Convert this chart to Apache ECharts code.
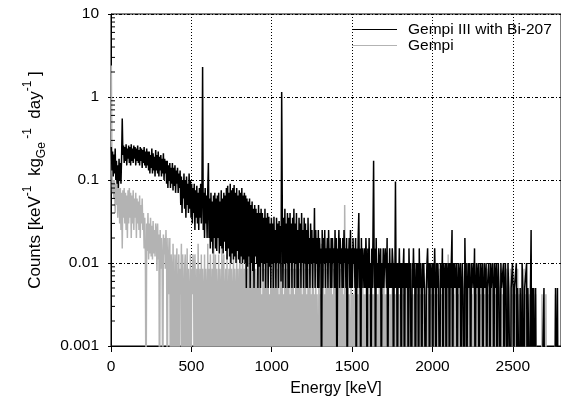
<!DOCTYPE html>
<html><head><meta charset="utf-8">
<script src="https://cdn.jsdelivr.net/npm/echarts@6/dist/echarts.min.js"></script>
<style>html,body{margin:0;padding:0;background:#fff}#c{width:561px;height:403px}</style>
</head><body><div id="c"></div>
<script>
// bin width of the spectra (keV); values are counts per keV per kg(Ge) per day
const binWidthKeV = 4;
const seriesNames = ['Gempi III with Bi-207', 'Gempi'];
const xTickLabels = ['0', '500', '1000', '1500', '2000', '2500'];
const yTickLabels = ['0.001', '0.01', '0.1', '1', '10'];
const yMinorTicks = [0.002,0.003,0.004,0.005,0.006,0.007,0.008,0.009,
  0.02,0.03,0.04,0.05,0.06,0.07,0.08,0.09,
  0.2,0.3,0.4,0.5,0.6,0.7,0.8,0.9,
  2,3,4,5,6,7,8,9];

// Gempi III with Bi-207 (black); 1e-4 = empty bin (below the axis)
const bi207 = [
  0.25,0.13,0.22,0.11,0.2,0.12,0.24,0.1,
  0.17,0.09,0.15,0.08,0.18,0.1,0.16,0.09,0.19,
  0.55,
  0.2,0.26,0.16,0.25,0.17,0.27,0.15,0.24,0.18,0.26,
  0.16,0.25,0.15,0.27,0.17,0.24,0.16,0.26,0.18,0.25,
  0.15,0.24,0.17,0.26,0.16,0.23,0.15,0.25,0.17,0.24,
  0.14,0.23,0.16,0.25,0.15,0.22,0.14,0.24,0.15,0.22,
  0.13,0.22,0.12,0.2,0.14,0.24,0.12,0.21,0.13,0.19,
  0.11,0.23,0.13,0.2,0.12,0.22,0.11,0.19,0.13,0.2,
  0.11,0.18,0.12,0.21,0.1,0.18,0.12,0.17,
  0.09,0.17,0.08,0.15,0.1,0.16,0.08,0.14,0.09,0.16,
  0.075,0.14,0.085,0.15,0.07,0.13,0.09,0.14,0.07,0.12,0.08,0.13,
  0.05,0.11,0.04,0.1,0.06,0.12,0.045,0.1,0.035,0.11,
  0.05,0.09,0.04,0.12,0.045,0.1,0.035,0.09,
  0.03,0.08,0.04,0.09,0.025,0.075,0.035,0.085,0.03,0.07,0.025,0.08,0.035,0.09,0.03,0.07,
  2.3,
  0.025,0.07,0.02,0.08,0.03,0.065,0.02,0.075,
  0.16,
  0.02,0.06,0.015,0.07,0.018,0.055,0.013,0.065,0.02,0.07,
  0.015,0.06,0.014,0.065,0.02,0.07,0.013,0.055,0.016,0.075,
  0.015,0.06,0.013,0.07,0.018,0.065,
  0.014,0.08,0.011,0.085,0.015,0.07,0.012,0.09,0.01,0.075,
  0.013,0.08,0.011,0.087,0.012,0.07,0.01,0.08,0.014,0.065,
  0.011,0.075,0.01,0.07,0.012,0.08,0.01,0.065,0.011,0.07,
  0.01,0.065,0.005,0.06,0.009,0.055,0.012,0.06,0.005,0.05,
  0.01,0.055,0.008,0.045,0.005,0.05,0.012,0.045,0.01,0.04,
  0.005,0.05,0.009,0.04,0.005,0.045,0.01,0.04,0.006,0.035,
  0.01,0.045,0.005,0.035,0.01,0.04,0.005,0.036,0.009,0.03,
  0.005,0.035,0.01,0.03,0.005,0.036,0.01,0.025,0.005,0.035,
  0.01,0.03,0.005,0.032,0.01,0.028,0.006,
  1.15,
  0.04,0.005,0.035,0.01,0.045,0.005,0.03,0.01,0.04,0.005,
  0.035,0.005,0.04,0.01,0.03,0.005,0.035,0.01,0.045,0.005,
  0.03,0.01,0.04,0.005,0.025,0.005,0.035,0.01,0.03,0.005,
  0.04,0.01,0.025,0.005,0.035,0.01,0.03,0.005,0.025,0.005,
  0.035,0.01,0.02,0.005,0.03,0.01,0.025,0.005,0.02,0.01,
  0.046,
  0.005,0.025,0.01,0.02,0.005,0.025,0.005,0.02,0.01,0.015,
  1e-4,0.025,0.005,0.02,0.01,0.025,0.005,0.015,0.01,0.02,
  0.005,0.025,0.01,0.015,0.005,0.02,0.005,0.02,0.01,0.015,
  0.005,0.025,0.005,0.02,1e-4,0.015,0.01,0.025,0.005,0.02,
  0.01,0.015,0.005,0.02,0.005,0.025,0.01,0.015,0.005,0.02,
  1e-4,0.015,0.01,0.02,0.005,0.025,0.005,0.015,0.005,0.02,
  0.01,0.015,0.005,0.02,1e-4,0.015,0.005,0.02,
  0.04,
  0.005,0.015,1e-4,0.02,0.005,0.015,0.01,0.005,0.015,0.005,
  0.02,0.01,1e-4,0.015,0.005,0.02,0.005,0.01,1e-4,0.015,0.005,0.02,
  0.17,
  0.005,0.015,1e-4,0.02,0.005,0.01,0.005,0.015,0.005,0.01,
  0.015,1e-4,0.01,0.005,0.015,0.005,0.01,0.015,0.01,0.005,
  0.02,1e-4,0.01,0.005,0.015,0.005,0.01,0.005,0.015,0.01,
  1e-4,0.01,0.005,
  0.096,
  0.005,0.01,1e-4,0.01,0.005,0.015,0.005,0.01,1e-4,0.01,
  0.005,0.005,0.015,1e-4,0.01,0.005,0.01,0.005,0.01,1e-4,
  0.015,0.005,0.01,0.01,1e-4,0.01,0.005,0.015,0.005,0.01,
  1e-4,0.005,0.01,0.005,0.01,1e-4,0.015,0.005,0.01,0.005,
  1e-4,0.01,0.005,0.01,0.005,0.005,1e-4,0.005,0.01,0.015,
  0.005,0.01,1e-4,0.01,0.005,0.005,0.01,1e-4,0.01,0.005,
  0.015,0.005,1e-4,0.01,0.005,0.01,0.005,0.005,1e-4,0.01,
  0.01,0.005,0.015,1e-4,0.01,0.005,0.005,0.01,1e-4,0.01,
  0.005,0.005,0.01,1e-4,0.01,0.005,0.005,
  0.025,
  1e-4,0.01,0.005,0.01,0.005,0.005,0.01,1e-4,0.005,0.01,0.005,0.005,0.01,1e-4,0.005,0.01,0.005,0.005,1e-4,
  0.02,
  0.005,0.01,1e-4,0.005,0.01,0.005,0.01,0.005,1e-4,0.01,
  0.005,0.005,0.01,0.005,0.015,1e-4,0.005,0.01,0.005,0.005,
  0.01,1e-4,0.005,0.01,0.005,0.005,0.01,1e-4,0.005,0.01,
  0.005,0.005,0.01,1e-4,0.005,0.005,0.01,0.005,1e-4,0.01,
  0.005,0.005,0.01,0.005,1e-4,0.01,0.005,0.005,0.01,1e-4,
  0.005,0.01,0.005,0.005,1e-4,0.01,0.005,0.005,0.005,0.01,
  1e-4,0.005,0.01,0.005,0.005,1e-4,0.01,0.005,0.005,
  0.005,1e-4,0.005,0.005,0.01,0.005,1e-4,0.005,0.005,0.005,
  0.01,1e-4,0.005,0.005,0.005,1e-4,0.005,0.005,1e-4,0.01,
  0.005,0.005,1e-4,0.005,0.005,0.005,0.01,1e-4,0.005,0.005,
  0.005,1e-4,0.005,
  0.025,
  1e-4,0.005,1e-4,0.005,1e-4,1e-4,0.005,1e-4,1e-4,1e-4,
  1e-4,1e-4,1e-4,1e-4,1e-4,1e-4,1e-4,1e-4,1e-4,0.005,
  1e-4,1e-4,1e-4,1e-4,1e-4,1e-4,1e-4,1e-4,1e-4,1e-4,
  1e-4,1e-4,1e-4,1e-4,1e-4,1e-4,1e-4,0.005,1e-4,1e-4,
  0.005,1e-4,1e-4,1e-4,1e-4,1e-4
];

// Gempi (grey)
const gempi = [
  2.4,0.12,0.07,0.1,
  0.06,0.1,0.04,0.09,0.05,0.11,0.035,0.08,
  0.075,0.03,0.08,0.025,0.07,0.015,0.075,0.035,0.08,0.03,
  0.07,0.025,0.065,0.02,0.075,0.03,0.08,0.035,0.07,0.02,
  0.065,0.03,0.075,0.025,0.06,0.035,0.07,0.02,0.06,0.03,
  0.055,0.025,0.065,0.02,0.05,0.03,0.06,0.025,
  0.04,0.015,0.035,0.012,1e-4,0.03,0.014,0.04,0.011,0.03,
  0.013,0.035,0.012,0.028,0.011,0.032,0.013,0.025,0.012,0.03,
  0.025,0.008,0.03,0.011,0.022,1e-4,0.025,0.0085,0.02,0.011,
  1e-4,0.022,0.0127,0.02,0.0085,0.025,0.011,1e-4,0.02,0.0085,
  0.0042,0.02,1e-4,0.0127,0.0085,1e-4,0.017,0.0042,1e-4,0.0127,
  1e-4,0.0085,0.015,1e-4,0.0042,0.0127,1e-4,0.0085,0.0042,0.017,
  1e-4,0.0127,0.0042,1e-4,0.0085,0.0127,1e-4,0.0042,0.015,1e-4,
  0.0085,0.0042,1e-4,0.0127,1e-4,0.0085,0.0042,0.0127,
  0.0085,1e-4,0.0127,0.0042,1e-4,0.0085,1e-4,0.017,0.0042,1e-4,
  0.0085,1e-4,0.0127,1e-4,0.0085,0.0042,1e-4,0.0127,1e-4,0.0085,
  0.0042,1e-4,0.017,1e-4,0.0085,1e-4,0.0127,0.0042,1e-4,0.0085,
  1e-4,0.0212,0.0042,1e-4,0.0127,1e-4,0.0085,0.0042,1e-4,0.0127,
  1e-4,0.0085,0.0042,1e-4,0.017,1e-4,0.0085,0.0127,1e-4,0.0042,
  0.0085,1e-4,0.0127,1e-4,0.0042,0.0085,1e-4,0.017,1e-4,0.0085,
  0.0042,1e-4,0.0127,1e-4,0.0085,0.0042,1e-4,0.0127,1e-4,0.0085,
  1e-4,0.0042,0.0127,1e-4,0.0085,1e-4,0.017,0.0042,1e-4,0.0085,
  1e-4,0.0127,0.0042,1e-4,0.0085,1e-4,0.0127,1e-4,0.0042,0.0085,
  1e-4,0.0127,1e-4,0.0085,
  0.0042,1e-4,0.0085,1e-4,0.0042,0.0085,1e-4,0.0127,1e-4,0.0042,
  0.0085,1e-4,0.0042,1e-4,0.0085,0.0042,1e-4,0.0085,1e-4,0.0127,
  0.0042,1e-4,0.0085,1e-4,0.0042,1e-4,0.0085,0.0042,1e-4,0.0085,
  1e-4,0.0042,0.017,1e-4,0.0085,1e-4,0.0042,0.0085,1e-4,0.0042,
  1e-4,0.0127,0.0042,1e-4,0.0085,1e-4,0.0042,1e-4,0.0085,0.0042,
  1e-4,0.0085,1e-4,0.0042,0.0127,1e-4,0.0042,1e-4,0.0085,1e-4,
  0.0042,0.0085,1e-4,0.0042,1e-4,0.0085,1e-4,0.0042,0.0127,1e-4,
  0.0085,1e-4,0.0042,0.0085,1e-4,0.0042,1e-4,0.0127,0.0042,1e-4,
  0.0085,1e-4,0.0042,1e-4,0.0085,1e-4,0.0042,0.0085,1e-4,0.0042,
  1e-4,0.0085,0.0127,1e-4,0.0042,1e-4,0.0085,1e-4,0.0042,0.0042,
  1e-4,0.0085,1e-4,0.0042,1e-4,0.017,0.0042,1e-4,0.0085,1e-4,
  0.0042,1e-4,0.0085,0.0042,1e-4,0.0085,1e-4,0.0127,1e-4,0.0042,
  0.0085,1e-4,0.0042,1e-4,0.0085,0.0042,1e-4,0.0042,0.0085,1e-4,
  0.0042,1e-4,0.0127,1e-4,0.0085,0.0042,1e-4,0.0085,1e-4,0.0042,
  1e-4,
  0.05,
  0.0042,1e-4,0.0085,1e-4,0.0042,1e-4,0.0042,0.0042,1e-4,0.0085,1e-4,0.0042,
  1e-4,0.0042,1e-4,0.0085,0.0042,1e-4,0.0042,1e-4,0.0042,1e-4,0.0127,1e-4,
  0.0042,1e-4,0.0042,0.0085,1e-4,0.0042,1e-4,0.0042,1e-4,0.0085,1e-4,0.0042,
  0.0042,1e-4,0.0042,1e-4,0.0085,1e-4,0.0042,1e-4,0.0042,0.0042,1e-4,0.0085,
  1e-4,0.0042,1e-4,0.0042,1e-4,0.0085,0.0042,1e-4,0.0042,1e-4,0.0042,1e-4,
  0.0085,1e-4,0.0042,1e-4,0.0042,0.0042,1e-4,0.0085,1e-4,0.0042,1e-4,0.0042,
  1e-4,0.0042,0.0085,1e-4,0.0042,1e-4,0.0042,1e-4,0.0042,0.0085,1e-4,0.0042,
  1e-4,0.0042,1e-4,0.0042,0.0085,1e-4,0.0042,1e-4,0.0042,1e-4,0.0042,0.0085,
  1e-4,0.0042,1e-4,0.0042,1e-4,0.0042,0.0085,1e-4,0.0042,1e-4,0.0042,1e-4,
  0.0042,1e-4,0.0085,1e-4,0.0042,1e-4,0.0042,0.0042,1e-4,0.0042,1e-4,0.0085,
  1e-4,0.0042,1e-4,0.0042,1e-4,0.0042,1e-4,0.0085,0.0042,1e-4,0.0042,1e-4,
  0.0042,1e-4,0.0042,1e-4,0.0085,1e-4,0.0042,1e-4,0.0042,1e-4,1e-4,0.0042,
  1e-4,0.0042,0.0085,1e-4,0.0042,1e-4,0.0042,0.0042,1e-4,0.0042,1e-4,0.0085,
  0.0042,1e-4,0.0042,1e-4,0.0127,1e-4,0.0042,1e-4,0.0042,0.0085,1e-4,0.0042,
  1e-4,0.0042,1e-4,0.0085,0.0042,1e-4,0.0042,1e-4,0.0042,1e-4,0.0042,0.0085,
  1e-4,0.0042,0.0042,1e-4,0.0042,1e-4,0.0085,1e-4,0.0042,1e-4,0.0042,1e-4,
  0.0085,0.0042,1e-4,0.0042,1e-4,0.0042,1e-4,0.0042,0.0085,1e-4,0.0042,1e-4,
  0.0042,1e-4,0.0042,0.0085,1e-4,0.0042,1e-4,0.0042,1e-4,0.0085,1e-4,0.0042,
  1e-4,0.0042,1e-4,0.0042,0.0085,1e-4,0.0042,0.0042,1e-4,0.0042,1e-4,0.0042,
  0.0085,1e-4,0.0042,1e-4,0.0042,1e-4,0.0042,1e-4,0.0085,0.0042,1e-4,0.0042,
  1e-4,0.0042,0.0085,1e-4,0.0042,1e-4,0.0042,1e-4,0.0042,1e-4,0.0042,0.0085,
  0.0042,1e-4,0.0042,1e-4,0.0042,0.0085,1e-4,0.0042,1e-4,1e-4,0.0042,1e-4,
  1e-4,0.0042,0.0042,1e-4,0.0085,1e-4,0.0042,1e-4,0.0042,1e-4,0.0042,1e-4,
  0.0042,1e-4,0.0085,1e-4,0.0042,1e-4,0.0042,1e-4,0.0042,0.0042,1e-4,0.0042,
  1e-4,
  0.0127,
  1e-4,1e-4,1e-4,0.0042,1e-4,1e-4,0.0042,1e-4,1e-4,1e-4,
  1e-4,1e-4,1e-4,1e-4,1e-4,1e-4,0.0042,1e-4,1e-4,1e-4,
  1e-4,1e-4,0.0042,1e-4,1e-4,1e-4,1e-4,1e-4,1e-4,1e-4,
  1e-4,1e-4,1e-4,1e-4,1e-4,1e-4,1e-4,0.0042,1e-4,1e-4,
  1e-4,1e-4,1e-4,1e-4,1e-4,1e-4
];

const toPoints = arr => arr.map((v, i) => [i * binWidthKeV + binWidthKeV / 2, v]);

const FONT = 'Liberation Sans';
const chart = echarts.init(document.getElementById('c'), null, {renderer: 'canvas'});
chart.setOption({
  animation: false,
  backgroundColor: '#fff',
  grid: {left: 111, top: 14, width: 452, bottom: 57, show: true, borderColor: '#000', borderWidth: 1, containLabel: false},
  legend: {
    orient: 'vertical', left: 347, top: 16.5, itemWidth: 45, itemHeight: 1, itemGap: 0, icon: 'rect',
    data: seriesNames,
    textStyle: {fontFamily: FONT, fontSize: 15.5, lineHeight: 16, color: '#000', padding: [0, 0, 0, 6]}
  },
  xAxis: {
    type: 'value', min: 0, max: 2800, interval: 500,
    name: 'Energy [keV]', nameLocation: 'middle', nameGap: 35,
    nameTextStyle: {fontFamily: FONT, fontSize: 16, color: '#000'},
    axisLine: {lineStyle: {color: '#000', width: 1}},
    axisTick: {show: true, inside: false, length: 6, lineStyle: {color: '#000'}},
    axisLabel: {fontFamily: FONT, fontSize: 15.5, color: '#000', margin: 13, showMaxLabel: false,
      formatter: v => xTickLabels.includes(String(v)) ? String(v) : ''},
    splitLine: {show: true, lineStyle: {color: '#000', width: 1, type: [1, 2]}}
  },
  yAxis: {
    type: 'log', logBase: 10, min: 0.001, max: 10,
    name: '{n|Counts [keV}{p|-1}{n|  kg}{b|Ge}{p| -1}{n|  day}{p|-1}{n| ]}',
    nameLocation: 'middle', nameGap: 63, nameRotate: 90,
    nameTextStyle: {
      fontFamily: FONT, fontSize: 17, color: '#000',
      rich: {
        n: {fontFamily: FONT, fontSize: 17, lineHeight: 26, color: '#000'},
        p: {fontFamily: FONT, fontSize: 12, lineHeight: 12, verticalAlign: 'top', color: '#000'},
        b: {fontFamily: FONT, fontSize: 12, lineHeight: 12, verticalAlign: 'bottom', color: '#000'}
      }
    },
    axisLine: {show: true, lineStyle: {color: '#000', width: 1}},
    axisTick: {show: true, inside: false, length: 3, lineStyle: {color: '#000'}},
    axisLabel: {fontFamily: FONT, fontSize: 15.5, color: '#000', margin: 12,
      formatter: v => yTickLabels[Math.round(Math.log10(v)) + 3] || ''},
    splitLine: {show: true, lineStyle: {color: '#000', width: 1, type: [3, 2, 1, 2]}}
  },
  series: [
    {name: seriesNames[1], type: 'line', data: toPoints(gempi), showSymbol: false, symbol: 'none',
      lineStyle: {color: '#b3b3b3', width: 1.5}, itemStyle: {color: '#b3b3b3'}, clip: true, z: 2},
    {name: seriesNames[0], type: 'line', data: toPoints(bi207), showSymbol: false, symbol: 'none',
      lineStyle: {color: '#000', width: 1.5}, itemStyle: {color: '#000'}, clip: true, z: 3},
    {name: 'minorTicks', type: 'custom', silent: true, clip: false, z: 4,
      data: yMinorTicks.map(v => [0, v]),
      renderItem: (params, api) => {
        const p = api.coord([0, api.value(1)]);
        return {type: 'line', shape: {x1: p[0], y1: p[1], x2: p[0] + 4, y2: p[1]}, style: {stroke: '#000', lineWidth: 1}};
      }}
  ]
});
</script>
</body></html>
